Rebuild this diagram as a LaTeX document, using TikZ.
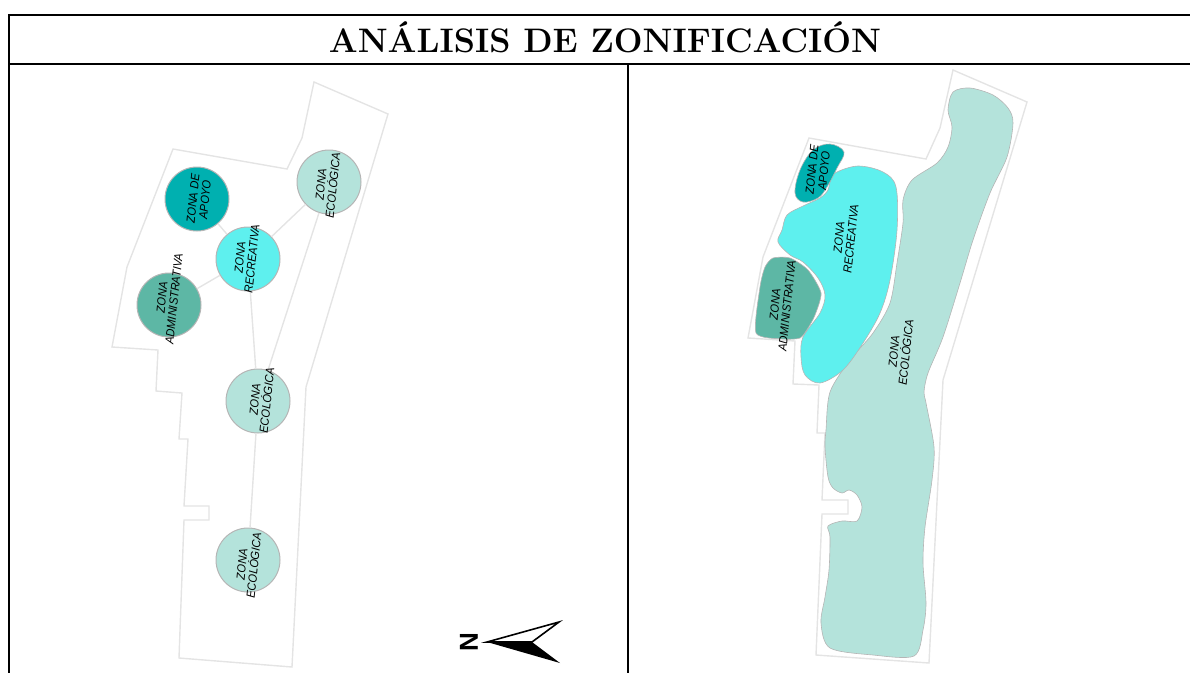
\documentclass[tikz,border=0pt]{standalone}
\usepackage{fontspec}
\newfontfamily\zonefont[FakeStretch=0.92]{Liberation Sans}
\newfontfamily\northfont{Liberation Sans}
\definecolor{apoyo}{HTML}{00B0B0}
\definecolor{recre}{HTML}{5EF0EE}
\definecolor{admin}{HTML}{5DB7A5}
\definecolor{ecolo}{HTML}{B4E3DB}
\definecolor{outl}{HTML}{E4E4E4}
\definecolor{circ}{HTML}{B5B5B5}
\tikzset{
  frameline/.style={black,line width=2pt},
  site/.style={draw=outl,line width=1.4pt,line join=miter},
  link/.style={draw=outl,line width=1.4pt},
  zone/.style={circle,draw=circ,line width=1pt,minimum size=64pt,inner sep=0pt},
  blob/.style={draw=circ,line width=0.6pt},
  zlabel/.style={font=\zonefont\itshape\fontsize{12}{12}\selectfont,align=center,rotate=84,text=black,inner sep=0pt},
}
\begin{document}
\begin{tikzpicture}[x=1pt,y=-1pt]
\useasboundingbox (0,0) rectangle (1190,673);
% frame
\draw[frameline] (1190,15) -- (9,15) -- (9,673);
\draw[frameline] (9,64) -- (1190,64);
\draw[frameline] (628,64) -- (628,673);
\node[font=\bfseries\fontsize{34}{34}\selectfont] (title) at (605,37) {ANÁLISIS DE ZONIFICACIÓN};
% left site outline
\draw[site] (314,82) -- (388,114) -- (306,387) -- (292,667) -- (179,658) -- (184,520) -- (209,520) -- (209,506) -- (184,506) -- (188,439) -- (179,439) -- (182,393) -- (156,391) -- (158,350) -- (112,347) -- (127,267) -- (173,149) -- (287,169) -- (302,138) -- cycle;
% zones left
\node[zone,fill=apoyo] (a) at (197,199) {};
\node[zone,fill=recre] (r) at (248,259) {};
\node[zone,fill=admin] (d) at (169,305) {};
\node[zone,fill=ecolo] (e1) at (329,182) {};
\node[zone,fill=ecolo] (e2) at (258,401) {};
\node[zone,fill=ecolo] (e3) at (248,560) {};
\draw[link] (a) -- (r);
\draw[link] (r) -- (d);
\draw[link] (r) -- (e1);
\draw[link] (r) -- (e2);
\draw[link] (e1) -- (e2);
\draw[link] (e2) -- (e3);
\node[zlabel] (la) at (199,199) {ZONA DE\\APOYO};
\node[zlabel] (lr) at (246,258) {ZONA\\RECREATIVA};
\node[zlabel] (ld) at (168,298) {ZONA\\ADMINISTRATIVA};
\node[zlabel] (le1) at (327,185) {ZONA\\ECOLÓGICA};
\node[zlabel] (le2) at (261,400) {ZONA\\ECOLÓGICA};
\node[zlabel] (le3) at (248,565) {ZONA\\ECOLÓGICA};
% north arrow
\coordinate (tip) at (487,642);
\coordinate (up) at (559,622);
\coordinate (notch) at (532,642);
\coordinate (low) at (560,663);
\draw[black,line width=1.6pt,fill=white,line join=miter] (tip) -- (up) -- (notch) -- cycle;
\fill[black] (tip) -- (low) -- (notch) -- cycle;
\node[font=\northfont\bfseries\fontsize{26}{26}\selectfont,rotate=90,inner sep=0pt] (north) at (469,642) {N};
% right site outline
\draw[site] (953,70) -- (1027,102) -- (943,380) -- (929,663) -- (816,655) -- (822,514) -- (848,514) -- (848,500) -- (822,500) -- (825,433) -- (817,433) -- (819,385) -- (793,384) -- (795,341) -- (748,338) -- (763,257) -- (809,138) -- (926,159) -- (940,128) -- cycle;
% right blobs
\draw[blob,fill=ecolo] plot[smooth cycle,tension=0.5] coordinates {(948,110) (953,92) (970,88) (993,95) (1008,108) (1013,123) (1007,157) (990,193) (973,240) (960,283) (943,337) (928,373) (924,392) (926,403) (934,447) (932,480) (925,527) (923,563) (926,603) (923,630) (914,656) (873,655) (830,648) (821,623) (825,597) (829,570) (830,537) (828,526) (842,521) (857,521) (862,507) (857,495) (849,490) (842,493) (833,488) (828,477) (825,447) (826,430) (830,392) (850,360) (873,333) (890,303) (897,263) (903,223) (903,200) (912,180) (937,163) (948,147) (952,127)};
\draw[blob,fill=recre] plot[smooth cycle,tension=0.55] coordinates {(835,173) (858,166) (883,172) (896,187) (897,230) (890,280) (880,313) (863,343) (843,370) (820,383) (805,375) (801,357) (803,337) (820,313) (825,295) (818,278) (803,262) (790,255) (778,242) (782,230) (787,215) (803,206) (820,198) (828,190) (830,182)};
\draw[blob,fill=apoyo] plot[smooth cycle,tension=0.6] coordinates {(830,144) (844,152) (837,168) (827,187) (818,198) (803,202) (795,193) (800,170) (813,150)};
\draw[blob,fill=admin] plot[smooth cycle,tension=0.4] coordinates {(773,258) (790,258) (808,270) (821,293) (815,315) (808,328) (800,338) (783,339) (756,333) (760,287) (765,267)};
\node[zlabel] (rla) at (818,170) {ZONA DE\\APOYO};
\node[zlabel] (rlr) at (845,238) {ZONA\\RECREATIVA};
\node[zlabel] (rld) at (781,305) {ZONA\\ADMINISTRATIVA};
\node[zlabel] (rle) at (900,352) {ZONA\\ECOLÓGICA};
\end{tikzpicture}
\end{document}
